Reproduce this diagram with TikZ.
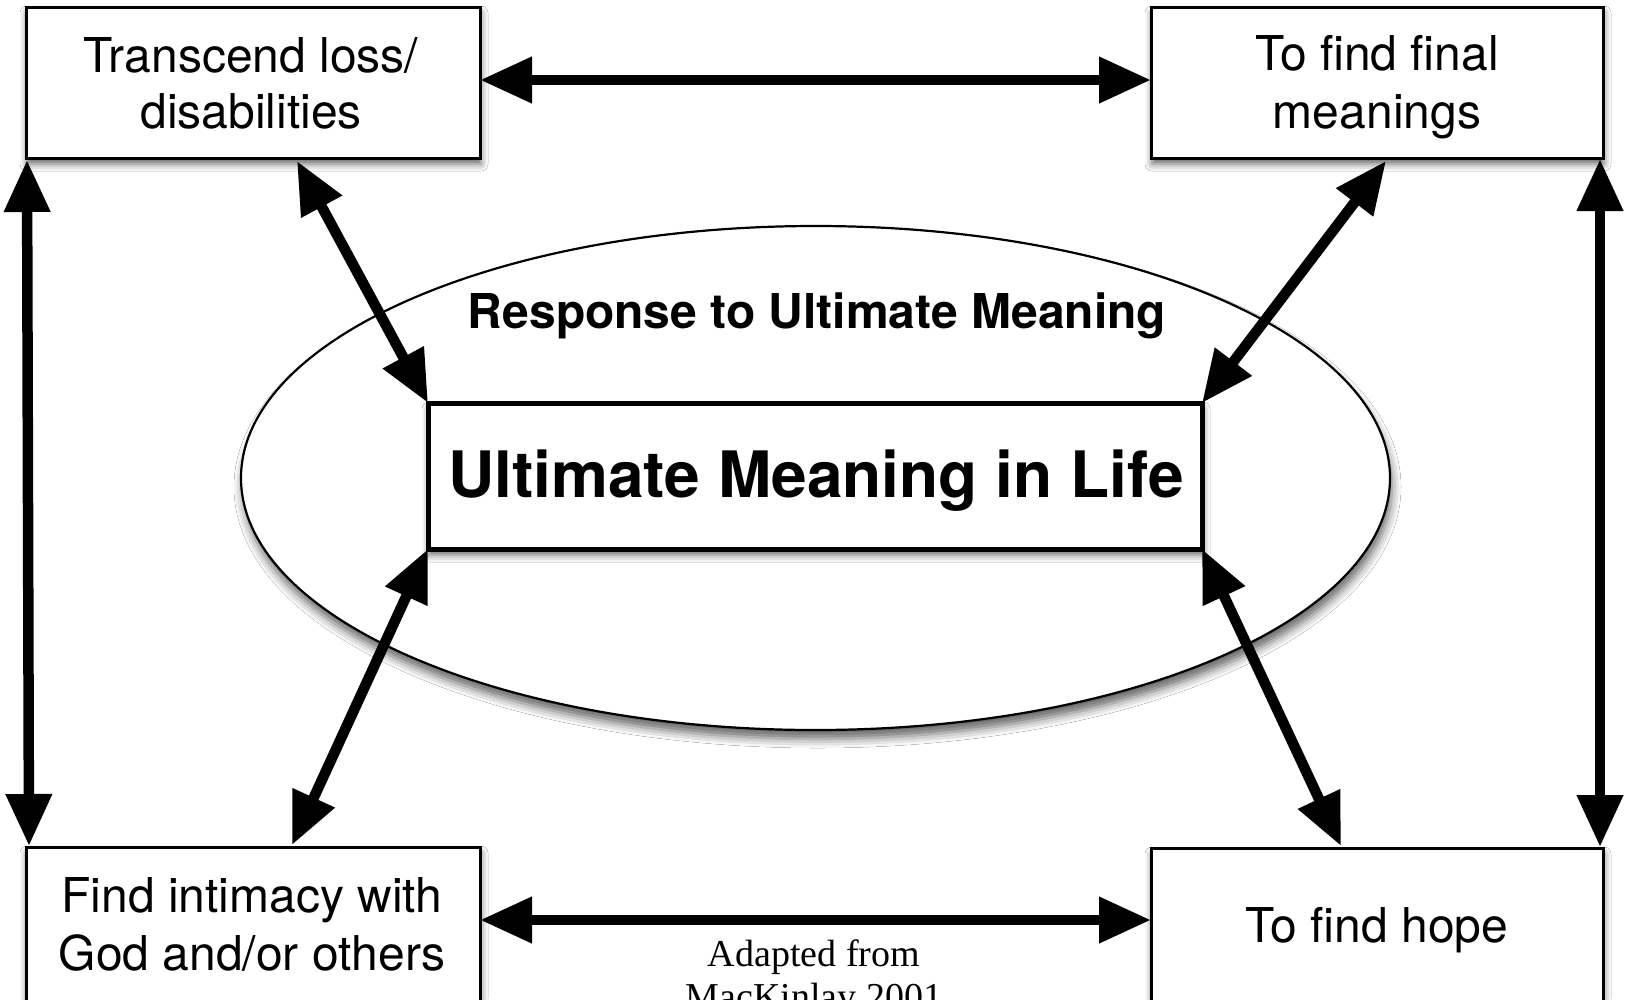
\documentclass[tikz,border=0pt]{standalone}
\usepackage{fontspec}
\setmainfont{TeX Gyre Heros}
\newfontfamily\adaptfont{Liberation Serif}
\usetikzlibrary{arrows.meta,shapes.geometric,shadows.blur}
\tikzset{
  boxnode/.style={draw, line width=3pt, fill=white, inner sep=0pt, outer sep=0pt,
    blur shadow={shadow xshift=1pt, shadow yshift=-6pt, shadow blur radius=7pt, shadow opacity=60}},
  centerbox/.style={boxnode, line width=5pt},
  ringnode/.style={ellipse, draw, line width=2.2pt, fill=white, inner sep=0pt, outer sep=0pt,
    blur shadow={shadow xshift=2pt, shadow yshift=-9pt, shadow blur radius=9pt, shadow opacity=60}},
  boxtext/.style={anchor=base, inner sep=0pt, font=\fontsize{48}{56}\selectfont},
  headtext/.style={anchor=base, inner sep=0pt, font=\fontsize{48}{56}\selectfont\bfseries},
  maintext/.style={anchor=base, inner sep=0pt, font=\fontsize{64}{70}\selectfont\bfseries},
  notetext/.style={anchor=base, inner sep=0pt, font=\adaptfont\fontsize{38}{43}\selectfont},
  bidir/.style={line width=10.5pt, {Triangle[length=52pt,width=44pt]}-{Triangle[length=52pt,width=44pt]}},
}
\begin{document}
\begin{tikzpicture}[x=1pt, y=-1pt]
\useasboundingbox (0,0) rectangle (1625,999);
\clip (0,0) rectangle (1625,999);
\fill[white] (0,0) rectangle (1625,999);

% ellipse
\node[ringnode, minimum width=1149pt, minimum height=504pt] (ell) at (815.5,478) {};
\node[headtext] (resp) at (817,328) {Response to Ultimate Meaning};

% center box
\node[centerbox, minimum width=774pt, minimum height=146pt] (c) at (815,476) {};

% outer boxes
\node[boxnode, minimum width=454pt, minimum height=151pt] (tl) at (253,82.5) {};
\node[boxnode, minimum width=452pt, minimum height=151pt] (tr) at (1377,82.5) {};
\node[boxnode, minimum width=454pt, minimum height=154pt] (bl) at (253,924) {};
\node[boxnode, minimum width=452pt, minimum height=153pt] (br) at (1377,924.5) {};

% connectors
\draw[bidir] ([yshift=2.5pt]tl.east) -- ([yshift=2.5pt]tr.west);
\draw[bidir] ([yshift=4pt]bl.east) -- ([yshift=4.5pt]br.west);
\draw[bidir] ([xshift=1pt,yshift=-2pt]tl.south west) -- ([xshift=3pt,yshift=1pt]bl.north west);
\draw[bidir] ([xshift=-3pt,yshift=-1pt]tr.south east) -- ([xshift=-3pt,yshift=1pt]br.north east);
\draw[bidir] ([xshift=44pt,yshift=-3pt]tl.south) -- (c.north west);
\draw[bidir] ([xshift=9pt,yshift=-3pt]tr.south) -- (c.north east);
\draw[bidir] (c.south west) -- ([xshift=39pt,yshift=2pt]bl.north);
\draw[bidir] (c.south east) -- ([xshift=-36pt,yshift=2pt]br.north);

% texts
\node[maintext] (ctext) at (816,497) {Ultimate Meaning in Life};
\node[boxtext] (tl1) at (251,72) {Transcend loss/};
\node[boxtext] (tl2) at (251,128) {disabilities};
\node[boxtext] (tr1) at (1377,70) {To find final};
\node[boxtext] (tr2) at (1377,128) {meanings};
\node[boxtext] (bl1) at (252,912) {Find intimacy with};
\node[boxtext] (bl2) at (252,970) {God and/or others};
\node[boxtext] (br1) at (1377,942) {To find hope};
\node[notetext] (note1) at (814,966) {Adapted from};
\node[notetext] (note2) at (814,1009) {MacKinlay 2001};
\end{tikzpicture}
\end{document}
